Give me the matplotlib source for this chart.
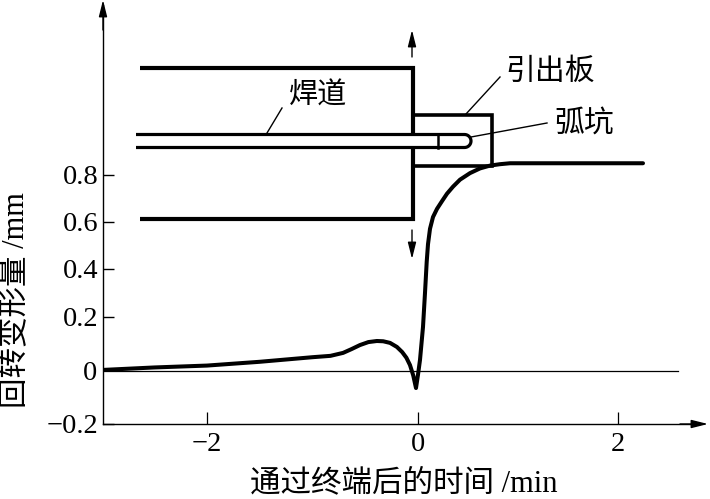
import numpy as np
import matplotlib
matplotlib.use("Agg")
import matplotlib.pyplot as plt

plt.rcParams['font.family'] = ['Liberation Serif', 'Noto Sans CJK SC']

# curve
time_min = [-2.98, -2.5, -2.0, -1.5, -1.0, -0.83, -0.71, -0.63, -0.55, -0.47, -0.39, -0.33, -0.265, -0.2, -0.15,
            -0.11, -0.076, -0.045, -0.019, 0.0, 0.02, 0.05, 0.07, 0.087, 0.10, 0.12, 0.15, 0.19, 0.24, 0.29,
            0.35, 0.42, 0.52, 0.62, 0.72, 0.82, 0.92, 2.25]
rotation_mm = [0.003, 0.012, 0.019, 0.033, 0.05, 0.055, 0.066, 0.08, 0.095, 0.106, 0.11, 0.109, 0.103, 0.088, 0.069,
               0.048, 0.021, -0.018, -0.065, -0.015, 0.04, 0.162, 0.30, 0.43, 0.505, 0.57, 0.62, 0.655, 0.688, 0.72,
               0.75, 0.78, 0.808, 0.828, 0.84, 0.846, 0.85, 0.85]

x_ticks = [-2, 0, 2]
y_ticks = [-0.2, 0.2, 0.4, 0.6, 0.8]
y_tick_labels = ['\u22120.2', '0.2', '0.4', '0.6', '0.8']

# the printed axes are not quite even, so the scales go through the tick positions
x_vals = np.array([-3.0, -2.0, 0.0, 2.0, 3.0])
x_pos = np.array([101.5, 207.0, 418.0, 618.0, 718.0])
y_vals = np.array([-0.2, 0.0, 0.2, 0.4, 0.6, 0.8, 1.6])
y_pos = np.array([-424.0, -370.7, -316.7, -269.0, -221.7, -175.0, 13.0])


def x_fwd(v):
    return np.interp(v, x_vals, x_pos)


def x_inv(p):
    return np.interp(p, x_pos, x_vals)


def y_fwd(v):
    return np.interp(v, y_vals, y_pos)


def y_inv(p):
    return np.interp(p, y_pos, y_vals)


fig = plt.figure(figsize=(7.1, 4.99), dpi=100)
ax = fig.add_axes([103 / 710, (499 - 424) / 499, (700 - 103) / 710, (424 - 5) / 499])
ax.set_xscale('function', functions=(x_fwd, x_inv))
ax.set_yscale('function', functions=(y_fwd, y_inv))
ax.set_xlim(x_inv(103.0), x_inv(700.0))
ax.set_ylim(-0.2, y_inv(-5.0))

ax.plot([x_inv(103.0), x_inv(678.0)], [0, 0], color='black', lw=0.9)
ax.plot(time_min, rotation_mm, color='black', lw=2.9, solid_joinstyle='round', solid_capstyle='round', zorder=3)

ax.set_xticks(x_ticks)
ax.set_xticklabels(['\u22122', '0', '2'])
ax.set_yticks(y_ticks)
ax.set_yticklabels(y_tick_labels)
ax.tick_params(axis='x', direction='in', length=8.5, width=0.9, labelsize=20.5, pad=6)
ax.tick_params(axis='y', direction='in', length=8, width=1.0, labelsize=20.5, pad=3)
ax.minorticks_off()
for side in ['top', 'right']:
    ax.spines[side].set_visible(False)
for side in ['left', 'bottom']:
    ax.spines[side].set_linewidth(1.0)

# overlay in picture pixels for the schematic and the lettering
sk = fig.add_axes([0, 0, 1, 1])
sk.set_xlim(0, 710)
sk.set_ylim(499, 0)
sk.axis('off')
sk.patch.set_alpha(0)

# plate outline, its end edge stops where the weld bead passes
plate_x = [140, 413, 413, np.nan, 413, 413, 140]
plate_y = [68, 68, 134.5, np.nan, 147.5, 219, 219]
sk.plot(plate_x, plate_y, color='black', lw=3.0, solid_joinstyle='miter', solid_capstyle='butt')

tab_x = [413, 492, 492, 413]
tab_y = [115, 115, 166, 166]
sk.plot(tab_x, tab_y, color='black', lw=2.6, solid_joinstyle='miter', solid_capstyle='butt')

# weld bead with the rounded crater end
theta = np.linspace(np.pi / 2, -np.pi / 2, 20)
weld_x = np.r_[136, 464.5 + 6.5 * np.cos(theta), 136]
weld_y = np.r_[134.5, 141 - 6.5 * np.sin(theta), 147.5]
sk.plot(weld_x, weld_y, color='black', lw=2.3, solid_capstyle='butt')
sk.plot([438, 438], [134.5, 147.5], color='black', lw=1.8)

# leader lines
sk.plot([282, 267], [108, 133], color='black', lw=1.0)
sk.plot([500, 466], [77, 114], color='black', lw=1.0)
sk.plot([471, 547], [137, 123], color='black', lw=1.0)

arrow = dict(arrowstyle='-|>,head_length=1.0,head_width=0.25', color='black', lw=1.0, shrinkA=0, shrinkB=0)
sk.annotate('', xy=(103, 0), xytext=(103, 30), arrowprops=arrow)
sk.annotate('', xy=(708, 424), xytext=(680, 424), arrowprops=arrow)
sk.annotate('', xy=(412, 30), xytext=(412, 57), arrowprops=arrow)
sk.annotate('', xy=(412, 259), xytext=(412, 230), arrowprops=arrow)

sk.text(318, 96, '焊道', fontsize=21, ha='center', va='center')
sk.text(550, 72, '引出板', fontsize=21.5, ha='center', va='center')
sk.text(584, 124, '弧坑', fontsize=21.5, ha='center', va='center')
sk.text(404, 484, '通过终端后的时间 /min', fontsize=22, ha='center', va='center')
sk.text(17, 300, '回转变形量 /mm', fontsize=22, ha='center', va='center', rotation=90)

sk.text(90, 373, '0', fontsize=20.5, ha='center', va='center')

fig.savefig('out.png', dpi=100)
